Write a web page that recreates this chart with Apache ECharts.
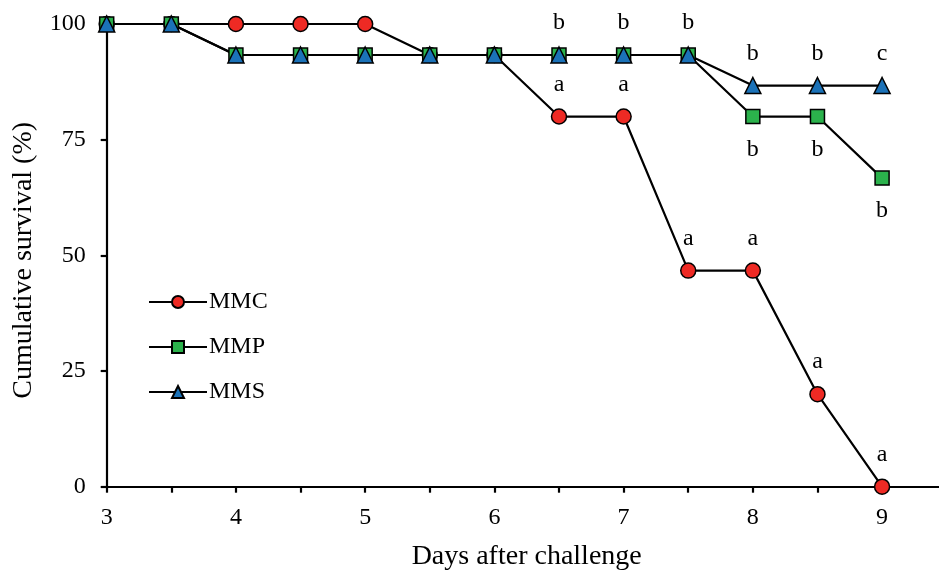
<!DOCTYPE html>
<html>
<head>
<meta charset="utf-8">
<script src="https://cdn.jsdelivr.net/npm/echarts@6/dist/echarts.min.js"></script>
<style>
  html, body { margin: 0; padding: 0; background: #fff; overflow: hidden; }
  #chart { width: 939px; height: 572px; }
</style>
</head>
<body>
<div id="chart"></div>
<script>
  // Survival (%) per sampling day
  const DAYS = [3, 3.5, 4, 4.5, 5, 5.5, 6, 6.5, 7, 7.5, 8, 8.5, 9];
  const MMC = [100, 100, 100, 100, 100, 93.3, 93.3, 80, 80, 46.7, 46.7, 20, 0];
  const MMP = [100, 100, 93.3, 93.3, 93.3, 93.3, 93.3, 93.3, 93.3, 93.3, 80, 80, 66.7];
  const MMS = [100, 100, 93.3, 93.3, 93.3, 93.3, 93.3, 93.3, 93.3, 93.3, 86.7, 86.7, 86.7];
  const Y_TICKS = [0, 25, 50, 75, 100];

  // Significance letters: [day, survival of the point, letter, 1 = above / -1 = below]
  const LETTERS = [
    [6.5, 93.3, "b", 1], [6.5, 80, "a", 1],
    [7, 93.3, "b", 1], [7, 80, "a", 1],
    [7.5, 93.3, "b", 1], [7.5, 46.7, "a", 1],
    [8, 86.7, "b", 1], [8, 80, "b", -1], [8, 46.7, "a", 1],
    [8.5, 86.7, "b", 1], [8.5, 80, "b", -1], [8.5, 20, "a", 1],
    [9, 86.7, "c", 1], [9, 66.7, "b", -1], [9, 0, "a", 1],
  ];

  const FONT = "'Liberation Serif', 'Times New Roman', serif";
  const RED = "#ee2a24";
  const GREEN = "#2bb24c";
  const BLUE = "#1b72b8";

  function pairs(ys) {
    return DAYS.map((d, i) => [d, ys[i]]);
  }

  function lineSeries(name, ys, symbol, size, color) {
    return {
      name, type: "line", data: pairs(ys),
      symbol, symbolSize: size, showAllSymbol: true,
      lineStyle: { color: "#000", width: 2.2 },
      itemStyle: { color, borderColor: "#000", borderWidth: 1.5 },
    };
  }

  const inst = echarts.init(document.getElementById("chart"), null, { renderer: "canvas" });

  // the x axis runs on to 9.5, past the right edge of the picture (cropped original);
  // outerBoundsMode none so v6 doesn't shrink the grid back inside the canvas
  inst.setOption({
    animation: false,
    backgroundColor: "#fff",
    textStyle: { fontFamily: FONT, color: "#000" },
    grid: { left: 106.7, width: 840, top: 24, bottom: 85.3, outerBoundsMode: "none" },
    legend: {
      orient: "vertical", left: 143, top: 285,
      itemWidth: 58, itemHeight: 15, itemGap: 21,
      data: ["MMC", "MMP", "MMS"],
      textStyle: { fontFamily: FONT, fontSize: 24, color: "#000", padding: [0, 0, 0, -3] },
    },
    xAxis: {
      type: "value", min: 3, max: 9.5, interval: 0.5,
      name: "Days after challenge", nameLocation: "middle", nameGap: 56,
      nameTextStyle: { fontFamily: FONT, fontSize: 28, color: "#000" },
      axisLine: { onZero: false, lineStyle: { color: "#000", width: 2.2 } },
      axisTick: { length: 6, lineStyle: { color: "#000", width: 2.2 } },
      axisLabel: {
        fontFamily: FONT, fontSize: 24, color: "#000", margin: 19,
        formatter: (v) => (Number.isInteger(v) ? String(v) : ""),
      },
      splitLine: { show: false },
    },
    yAxis: {
      type: "value", min: 0, max: 100, interval: 25,
      name: "Cumulative survival (%)", nameLocation: "middle", nameGap: 69,
      nameTextStyle: { fontFamily: FONT, fontSize: 28, color: "#000", padding: [0, 10, 0, 0] },
      axisLine: { lineStyle: { color: "#000", width: 2.2 } },
      axisTick: { length: 6, lineStyle: { color: "#000", width: 2.2 } },
      axisLabel: {
        fontFamily: FONT, fontSize: 24, color: "#000", margin: 21,
        formatter: (v) => (Y_TICKS.includes(v) ? String(v) : ""),
      },
      splitLine: { show: false },
    },
    series: [
      lineSeries("MMC", MMC, "circle", 15, RED),
      lineSeries("MMP", MMP, "rect", 14, GREEN),
      lineSeries("MMS", MMS, "triangle", 16, BLUE),
      {
        type: "scatter", symbolSize: 0, silent: true, z: 5,
        itemStyle: { opacity: 1 },
        data: LETTERS.map((l) => ({
          value: [l[0], l[1]],
          label: {
            show: true, position: "inside", formatter: l[2],
            offset: [0, l[3] > 0 ? -32 : 33],
            fontFamily: FONT, fontSize: 24, color: "#000", opacity: 1,
            textBorderWidth: 0, textBorderColor: "transparent",
          },
        })),
      },
    ],
  });
</script>
</body>
</html>
